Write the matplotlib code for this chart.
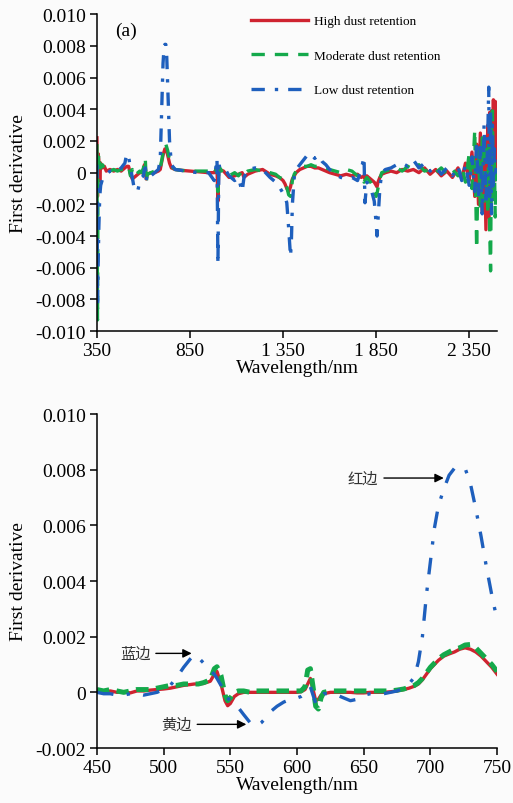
import numpy as np
import matplotlib
matplotlib.use("Agg")
import matplotlib.pyplot as plt
from matplotlib.ticker import FuncFormatter

plt.rcParams['font.family'] = ['Liberation Serif', 'DejaVu Serif']

# ---------------- data: panel (a), full spectrum (values in 1e-3) ----------------
wl_full = [350, 353, 356, 360, 365, 370, 380, 390, 400, 420, 440, 460, 480, 500, 510, 520,
           530, 540, 550, 560, 570, 580, 590, 600, 605, 610, 615, 620, 640, 660, 680, 690,
           700, 705, 710, 715, 720, 725, 730, 740, 750, 770, 800, 850, 900, 950, 980, 995,
           1000, 1005, 1010, 1030, 1060, 1090, 1110, 1130, 1140, 1160, 1200, 1240, 1280,
           1310, 1330, 1350, 1360, 1370, 1380, 1390, 1395, 1400, 1410, 1420, 1440, 1460,
           1480, 1500, 1520, 1540, 1560, 1580, 1600, 1630, 1660, 1690, 1720, 1750, 1770,
           1785, 1790, 1800, 1820, 1840, 1850, 1855, 1860, 1870, 1880, 1900, 1930, 1960,
           1990, 2020, 2050, 2080, 2110, 2140, 2170, 2200, 2230, 2260, 2290, 2310, 2330,
           2350, 2365, 2380, 2390, 2400, 2410, 2420, 2430, 2440, 2450, 2455, 2460, 2465,
           2470, 2475, 2480, 2485, 2490, 2495]
high_full = [2.2, -1.5, 1.2, 0.8, -0.5, 0.6, 0.3, 0.4, 0.1, 0.2, 0.1, 0.2, 0.1, 0.3, 0.4, 0.4,
             -0.1, -0.4, -0.3, -0.2, -0.1, 0.0, 0.0, 0.1, 0.5, 0.3, -0.4, -0.1, 0.0, 0.0, 0.1, 0.2,
             0.8, 1.1, 1.3, 1.5, 1.5, 1.4, 1.1, 0.6, 0.3, 0.2, 0.15, 0.1, 0.05, 0.0, 0.0, 0.3,
             -1.8, 0.4, 0.2, 0.1, -0.3, -0.2, -0.1, 0.0, -0.3, -0.1, 0.1, 0.2, -0.1,
             -0.2, -0.3, -0.5, -0.7, -1.0, -1.2, -0.9, -0.6, -0.4, -0.2, 0.0, 0.2, 0.3,
             0.4, 0.4, 0.3, 0.3, 0.2, 0.1, 0.0, -0.1, -0.2, -0.1, -0.2, -0.1, -0.3,
             -0.2, -0.4, -0.2, -0.4, -0.6, -0.8, -0.9, -0.6, -0.3, -0.1, 0.0, 0.1, 0.0,
             0.2, 0.1, 0.2, 0.0, 0.3, -0.1, 0.2, -0.2, 0.1, -0.3, 0.3, -0.4, 0.6,
             -0.5, 1.3, -1.5, 1.8, -2.0, 2.5, -2.5, 2.2, -3.6, 3.0, -2.8, 3.8, -2.0,
             3.9, -1.5, 4.6, -0.5, 4.5, 0.0]
moderate_full = [1.8, -9.3, 0.5, 1.2, 0.6, 0.3, 0.5, 0.2, 0.3, 0.1, 0.2, 0.1, 0.2, 0.2, 0.3, 0.4,
                 -0.2, 0.2, -0.2, -0.1, 0.0, 0.1, 0.0, 0.3, 0.9, 0.8, -0.6, -0.1, 0.0, 0.1, 0.1, 0.3,
                 0.9, 1.3, 1.6, 1.7, 1.8, 1.6, 1.4, 0.8, 0.4, 0.2, 0.15, 0.1, 0.1, 0.1, -0.1, 0.4,
                 -1.2, 0.2, 0.3, -0.1, -0.2, 0.0, -0.2, 0.1, -0.1, 0.1, 0.2, 0.1, 0.0,
                 -0.1, -0.3, -0.4, -0.6, -0.9, -1.4, -1.5, -1.0, -0.5, -0.1, 0.1, 0.2, 0.4,
                 0.4, 0.5, 0.4, 0.4, 0.3, 0.3, 0.2, 0.1, 0.0, 0.2, 0.1, -0.2, -0.1,
                 -0.6, -0.5, -0.3, -0.6, -1.0, -1.5, -1.3, -1.0, -0.4, 0.0, 0.1, 0.2, 0.3,
                 0.1, 0.4, 0.2, 0.5, 0.1, 0.2, 0.0, 0.3, -0.1, 0.2, -0.2, 0.4, -0.6,
                 1.2, -1.0, 2.7, -4.8, 1.5, -2.2, 2.2, -1.8, 1.8, -2.5, 2.0, -3.5, -6.2,
                 2.6, 3.9, -1.8, 1.0, -2.8, 0.5]
low_full = [0.5, -8.5, -6.0, -3.5, -1.5, -0.8, -0.4, -0.2, -0.1, 0.1, 0.0, 0.1, 0.3, 0.6, 1.2, 1.0,
            0.3, -0.3, -1.0, -1.2, -1.1, -0.6, -0.3, -0.2, 0.2, 0.3, -0.5, 0.0, -0.2, 0.0, 0.2, 0.8,
            4.8, 6.9, 7.8, 8.1, 8.1, 7.3, 5.5, 2.0, 0.5, 0.2, 0.15, 0.05, 0.0, 0.0, -0.5, 0.9,
            -5.8, 0.6, 0.3, 0.4, -0.2, -0.5, -0.3, -1.2, -0.3, 0.2, 0.3, 0.2, -0.3,
            -0.6, -0.9, -1.3, -1.5, -1.9, -3.5, -5.3, -4.2, -2.0, -0.3, 0.2, 0.5, 0.8,
            1.1, 1.2, 0.9, 1.1, 0.7, 0.5, 0.2, -0.1, -0.3, -0.4, -0.3, -0.5, 0.2,
            1.0, -1.9, -0.6, -0.9, -1.8, -3.2, -4.0, -3.0, -1.0, 0.0, 0.2, 0.3, 0.5,
            0.6, 0.4, 0.8, 0.3, 0.6, 0.1, 0.4, -0.1, 0.3, -0.2, 0.4, -0.5, 0.5,
            -0.8, 1.0, -1.2, 2.0, -1.5, 1.8, -2.6, 3.0, -2.0, 2.4, 5.4, -1.5, 4.0,
            -2.6, 3.0, -0.8, 1.5, 0.0, 0.3]

# ---------------- data: panel (b), 450-750 nm (values in 1e-3) ----------------
wl_zoom = [450, 455, 460, 465, 470, 475, 480, 485, 490, 495, 500, 505, 510, 515, 520, 523,
           526, 530, 535, 538, 540, 543, 546, 548, 550, 553, 556, 560, 565, 568, 570, 573,
           576, 580, 585, 590, 595, 600, 603, 606, 608, 610, 612, 614, 616, 618, 620, 625,
           630, 635, 640, 645, 650, 655, 660, 665, 670, 675, 680, 684, 688, 691, 694, 697,
           700, 703, 706, 710, 714, 718, 722, 726, 730, 734, 738, 742, 746, 750]
high_zoom = [0.05, 0.0, 0.05, 0.0, 0.02, -0.02, 0.05, 0.05, 0.08, 0.1, 0.12, 0.15, 0.2, 0.25, 0.28, 0.3,
             0.3, 0.32, 0.4, 0.65, 0.75, 0.3, -0.3, -0.48, -0.4, -0.15, -0.05, 0.0, 0.0, 0.0, 0.0, 0.0,
             0.0, 0.0, 0.0, 0.0, 0.0, 0.0, 0.02, 0.1, 0.3, 0.5, 0.1, -0.3, -0.25, -0.1, -0.05, 0.0,
             0.0, 0.0, 0.0, -0.02, -0.02, 0.0, 0.0, 0.0, 0.02, 0.05, 0.1, 0.15, 0.22, 0.3, 0.45, 0.65,
             0.85, 1.0, 1.15, 1.3, 1.38, 1.45, 1.55, 1.6, 1.55, 1.45, 1.3, 1.1, 0.9, 0.65]
moderate_zoom = [0.1, 0.05, 0.1, 0.05, 0.0, 0.05, 0.1, 0.1, 0.1, 0.15, 0.2, 0.25, 0.25, 0.3, 0.3, 0.3,
                 0.3, 0.35, 0.45, 0.85, 0.92, 0.6, -0.1, -0.3, -0.2, 0.0, 0.05, 0.05, 0.0, 0.05, 0.05, 0.05,
                 0.05, 0.05, 0.05, 0.05, 0.05, 0.05, 0.05, 0.2, 0.8, 0.85, 0.2, -0.5, -0.6, -0.2, 0.0, 0.05,
                 0.05, 0.05, 0.05, 0.05, 0.05, 0.05, 0.05, 0.05, 0.05, 0.08, 0.12, 0.18, 0.25, 0.35, 0.5, 0.7,
                 0.9, 1.05, 1.2, 1.35, 1.45, 1.55, 1.6, 1.7, 1.72, 1.6, 1.4, 1.2, 1.0, 0.75]
low_zoom = [0.0, -0.05, -0.05, -0.1, -0.1, -0.05, -0.05, -0.1, -0.05, 0.0, 0.1, 0.25, 0.55, 0.9, 1.2, 1.35,
            1.25, 1.05, 0.8, 0.65, 0.5, 0.25, -0.1, -0.2, -0.3, -0.45, -0.55, -0.8, -1.1, -1.2, -1.2, -1.1,
            -0.95, -0.7, -0.5, -0.35, -0.25, -0.2, -0.15, -0.05, 0.1, 0.2, -0.1, -0.4, -0.35, -0.15, -0.05, -0.05,
            -0.1, -0.2, -0.3, -0.25, -0.1, -0.05, -0.05, -0.05, 0.0, 0.05, 0.15, 0.3, 0.55, 1.1, 2.0, 3.5,
            4.7, 5.9, 6.7, 7.3, 7.8, 8.05, 8.1, 8.05, 7.5, 6.6, 5.6, 4.5, 3.5, 2.6]

series_names = ['High dust retention', 'Moderate dust retention', 'Low dust retention']

top_xticks = [350, 850, 1350, 1850, 2350]
top_xticklabels = ['350', '850', '1 350', '1 850', '2 350']
top_yticks = [-0.010, -0.008, -0.006, -0.004, -0.002, 0, 0.002, 0.004, 0.006, 0.008, 0.010]
bot_xticks = [450, 500, 550, 600, 650, 700, 750]
bot_yticks = [-0.002, 0, 0.002, 0.004, 0.006, 0.008, 0.010]

# annotation labels: (text, arrow tip wavelength, tip value, text right-edge wavelength)
edge_labels = [('红边', 710, 0.0077, 661),
               ('蓝边', 521, 0.0014, 490),
               ('黄边', 562, -0.00115, 521)]

RED = '#cf2330'
GREEN = '#14a94b'
BLUE = '#1e5fbd'

def yfmt(v, pos):
    if abs(v) < 1e-12:
        return '0'
    return '%.3f' % v

fig = plt.figure(figsize=(5.13, 8.04), dpi=100)
fig.patch.set_facecolor('#fbfbfb')

ax1 = fig.add_axes([0.189, 0.587, 0.780, 0.394])
ax2 = fig.add_axes([0.189, 0.0684, 0.780, 0.4154])

for ax in (ax1, ax2):
    ax.set_facecolor('#fbfbfb')
    for s in ('top', 'right'):
        ax.spines[s].set_visible(False)
    for s in ('left', 'bottom'):
        ax.spines[s].set_linewidth(1.1)
    ax.tick_params(direction='out', length=5, width=1.1, labelsize=14, pad=3)
    ax.yaxis.set_major_formatter(FuncFormatter(yfmt))
    ax.set_ylabel('First derivative', fontsize=14)
    ax.set_xlabel('Wavelength/nm', fontsize=14, labelpad=0)
    ax.yaxis.set_label_coords(-0.175, 0.5)

# panel (a)
x1 = np.array(wl_full)
ax1.plot(x1, np.array(high_full) * 1e-3, color=RED, lw=2.4, ls='-', label=series_names[0])
ax1.plot(x1, np.array(moderate_full) * 1e-3, color=GREEN, lw=2.4, ls=(0, (4, 3)), label=series_names[1])
ax1.plot(x1, np.array(low_full) * 1e-3, color=BLUE, lw=2.4, ls=(0, (4, 3, 1, 3)), label=series_names[2])
ax1.set_xlim(350, 2500)
ax1.set_ylim(-0.010, 0.010)
ax1.set_xticks(top_xticks)
ax1.set_xticklabels(top_xticklabels)
ax1.set_yticks(top_yticks)
ax1.text(0.045, 0.95, '(a)', transform=ax1.transAxes, fontsize=14, va='center', ha='left')
leg = ax1.legend(loc='upper left', bbox_to_anchor=(0.385, 0.997), frameon=False, fontsize=9.5,
                 handlelength=4.3, handletextpad=0.5, labelspacing=1.68, borderpad=0,
                 borderaxespad=0)

# panel (b)
x2 = np.array(wl_zoom)
ax2.plot(x2, np.array(high_zoom) * 1e-3, color=RED, lw=2.4, ls='-')
ax2.plot(x2, np.array(moderate_zoom) * 1e-3, color=GREEN, lw=3.6, ls=(0, (2.5, 1.5)))
ax2.plot(x2, np.array(low_zoom) * 1e-3, color=BLUE, lw=2.4, ls=(0, (5, 4, 1, 4)))
ax2.set_xlim(450, 750)
ax2.set_ylim(-0.002, 0.010)
ax2.set_xticks(bot_xticks)
ax2.set_yticks(bot_yticks)

for txt, xt, yt, xtext in edge_labels:
    ax2.annotate(txt, xy=(xt, yt), xytext=(xtext, yt), ha='right', va='center',
                 fontsize=11, color='#333333', family=['Noto Sans CJK SC', 'DejaVu Sans'],
                 arrowprops=dict(arrowstyle='-|>', color='black', lw=1.0,
                                 mutation_scale=13, shrinkA=2, shrinkB=0))

fig.savefig('out.png', dpi=100, facecolor=fig.get_facecolor())
